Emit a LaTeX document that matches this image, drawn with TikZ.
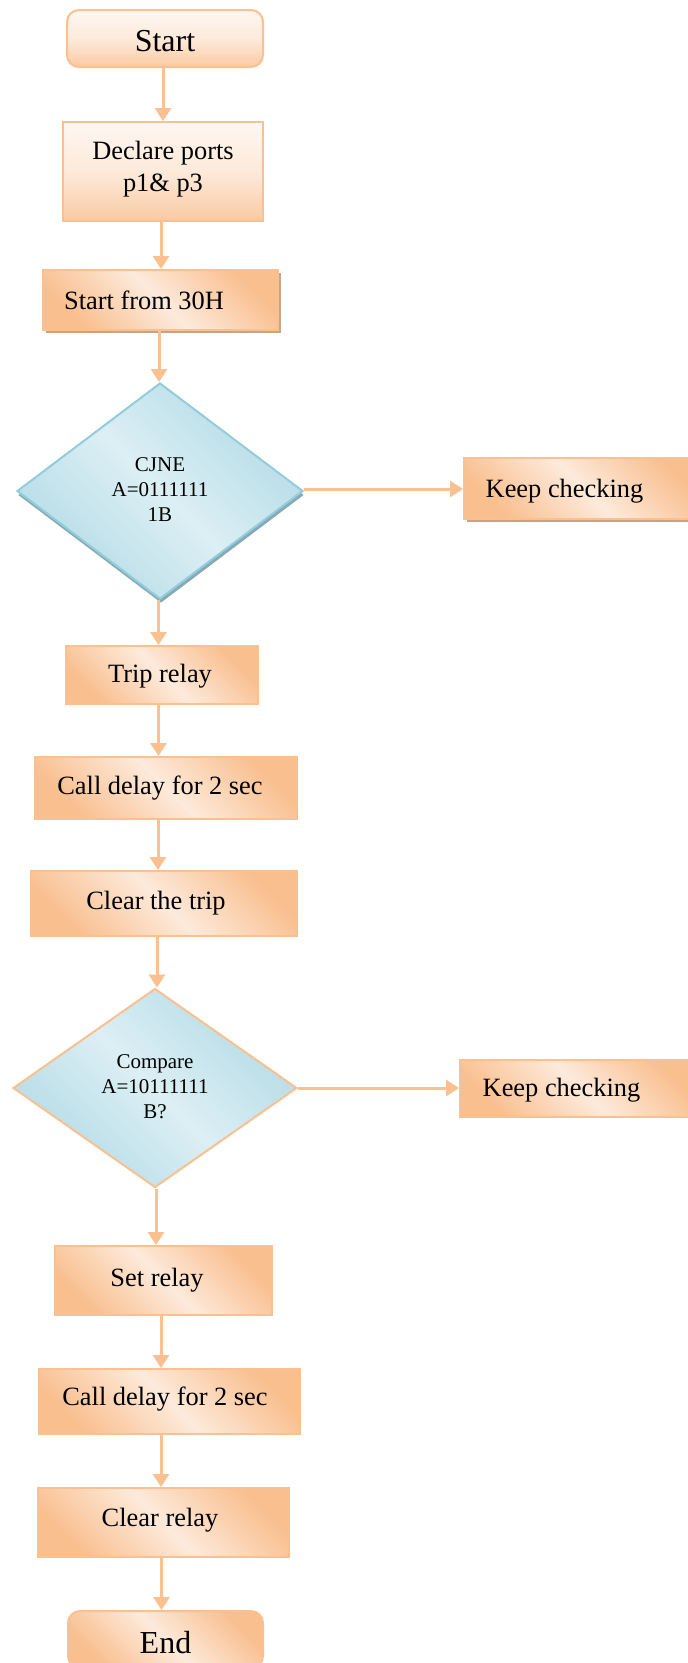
\documentclass[tikz,border=0pt]{standalone}
\usepackage{fontspec}
\setmainfont{Liberation Serif}
\usetikzlibrary{shapes.geometric,arrows.meta,shadows}
\definecolor{odark}{HTML}{F9BF8F}
\definecolor{olight}{HTML}{FDEADB}
\definecolor{oline}{HTML}{FAC08F}
\definecolor{bdark}{HTML}{B4DBE6}
\definecolor{blight}{HTML}{DCEFF4}
\definecolor{bline}{HTML}{92CDDC}
\definecolor{oshadow}{HTML}{C9A385}
\definecolor{bshadow}{HTML}{86A9B5}
\newcommand{\sh}[2]{#2\hspace*{#1}}
\newcommand{\dn}[2]{\raisebox{#1}[\height][\depth]{#2}}
\tikzset{
  box/.style={rectangle, draw=oline, line width=2pt, top color=odark, bottom color=odark,
    middle color=olight, shading angle=-45, inner sep=0pt,
    font=\fontsize{26.4}{32}\selectfont, align=center},
  vbox/.style={box, top color=white!60!olight, bottom color=odark!75!olight,
    middle color=olight, shading angle=0},
  term/.style={rounded corners=12pt, font=\fontsize{32}{38}\selectfont},
  oshad/.style={drop shadow={shadow xshift=3pt, shadow yshift=-3pt, fill=oshadow, opacity=1}},
  dia/.style={diamond, draw=bline, line width=2pt, top color=bdark, bottom color=bdark,
    middle color=blight, shading angle=-45, inner sep=0pt,
    font=\fontsize{21}{25}\selectfont},
  arr/.style={draw=oline, line width=3pt, -{Triangle[width=16pt,length=13pt]}}
}
\begin{document}
\begin{tikzpicture}[x=1pt,y=-1pt]
\useasboundingbox[fill=white] (0,0) rectangle (688,1663);

\node[vbox, term, minimum width=196pt, minimum height=57pt] (start) at (165,38.5) {\dn{-3pt}{Start}};
\node[vbox, minimum width=200pt, minimum height=99pt] (declare) at (163,171.5) {\dn{2pt}{\begin{tabular}{@{}c@{}}Declare ports\\p1\& p3\end{tabular}}};
\node[box, oshad, minimum width=235pt, minimum height=60pt] (s30) at (160.5,300) {\sh{33pt}{Start from 30H}};
\node[dia, draw=bline, minimum width=286pt, minimum height=216pt,
  drop shadow={shadow xshift=1pt, shadow yshift=-4pt, fill=bshadow, opacity=1}] (d1) at (160,491)
  {\begin{tabular}{@{}c@{}}CJNE\\A=0111111\\1B\end{tabular}};
\node[box, oshad, minimum width=240pt, minimum height=61pt] (kc1) at (584,488.5) {\dn{-3pt}{\sh{39pt}{Keep checking}}};
\node[box, minimum width=192pt, minimum height=58pt] (trip) at (162,675) {\dn{-1pt}{\sh{4pt}{Trip relay}}};
\node[box, minimum width=262pt, minimum height=62pt] (call1) at (166,788) {\sh{12pt}{Call delay for 2 sec}};
\node[box, minimum width=266pt, minimum height=65pt] (clrtrip) at (164,903.5) {\sh{16pt}{Clear the trip}};
\node[dia, draw=oline, minimum width=284pt, minimum height=199pt] (d2) at (155,1088)
  {\begin{tabular}{@{}c@{}}Compare\\A=10111111\\B?\end{tabular}};
\node[box, minimum width=240pt, minimum height=57pt] (kc2) at (580,1088.5) {\dn{-2pt}{\sh{37pt}{Keep checking}}};
\node[box, minimum width=217pt, minimum height=69pt] (set) at (163.5,1280.5) {\sh{13pt}{Set relay}};
\node[box, minimum width=261pt, minimum height=65pt] (call2) at (169.5,1401.5) {\dn{2pt}{\sh{9pt}{Call delay for 2 sec}}};
\node[box, minimum width=251pt, minimum height=69pt] (clrrelay) at (163.5,1522.5) {\dn{2pt}{\sh{7pt}{Clear relay}}};
\node[box, term, minimum width=195pt, minimum height=57pt] (end) at (165.5,1639.5) {\dn{-3pt}{End}};

\draw[arr] ([xshift=-2pt]start.south) -- ([xshift=-2pt]start.south |- declare.north);
\draw[arr] ([xshift=-2pt]declare.south) -- ([xshift=-2pt]declare.south |- s30.north);
\draw[arr] ([xshift=-1.5pt]s30.south) -- ([xshift=-1.5pt]s30.south |- d1.north);
\draw[arr] ([yshift=2pt]d1.east) -- ([yshift=2pt]d1.east -| kc1.west);
\draw[arr] ([xshift=-1.5pt]d1.south) -- ([xshift=-1.5pt]d1.south |- trip.north);
\draw[arr] ([xshift=-3.5pt]trip.south) -- ([xshift=-3.5pt]trip.south |- call1.north);
\draw[arr] ([xshift=-8pt]call1.south) -- ([xshift=-8pt]call1.south |- clrtrip.north);
\draw[arr] ([xshift=-7pt]clrtrip.south) -- ([xshift=-7pt]clrtrip.south |- d2.north);
\draw[arr] (d2.east) -- (d2.east -| kc2.west);
\draw[arr] ([xshift=1pt]d2.south) -- ([xshift=1pt]d2.south |- set.north);
\draw[arr] ([xshift=-2.5pt]set.south) -- ([xshift=-2.5pt]set.south |- call2.north);
\draw[arr] ([xshift=-8.5pt]call2.south) -- ([xshift=-8.5pt]call2.south |- clrrelay.north);
\draw[arr] ([xshift=-2pt]clrrelay.south) -- ([xshift=-2pt]clrrelay.south |- end.north);
\end{tikzpicture}
\end{document}
